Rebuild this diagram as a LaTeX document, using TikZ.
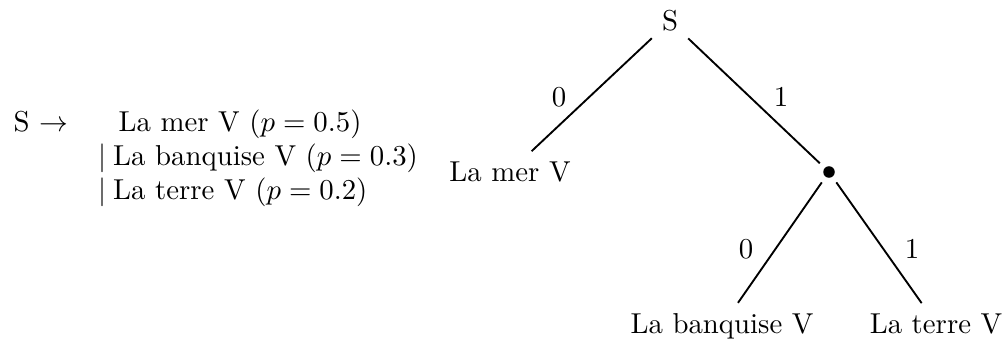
\documentclass[tikz,border=0pt]{standalone}
\begin{document}
\begin{tikzpicture}[x=0.3472pt,y=-0.3472pt,
  txt/.style={inner sep=0pt, anchor=base west},
  tnode/.style={anchor=base},
  lbl/.style={inner sep=0pt},
  branch/.style={line width=0.65pt},
  dotnode/.style={circle, fill=black, inner sep=0pt, minimum size=4pt, outer sep=2.4pt}]
\useasboundingbox (0,0) rectangle (1004,339);
% grammar rule
\node[txt] (lhs) at (13,131) {S $\rightarrow$};
\node[txt] (r1) at (118,131) {La mer V ($p=0.5$)};
\node[txt] (r2) at (98,165) {$\mid$\hspace{2.3pt}La banquise V ($p=0.3$)};
\node[txt] (r3) at (98,199) {$\mid$\hspace{2.3pt}La terre V ($p=0.2$)};
% tree
\node[tnode] (S) at (670,31) {S};
\node[tnode] (mer) at (510,181) {La mer V};
\node[dotnode] (dot) at (829,172) {};
\node[tnode] (banq) at (722,333) {La banquise V};
\node[tnode] (terre) at (936,333) {La terre V};
\draw[branch] (S) -- (mer);
\draw[branch] (S) -- (dot);
\draw[branch] (dot) -- (banq);
\draw[branch] (dot) -- (terre);
\node[lbl] (l0a) at (559,97) {0};
\node[lbl] (l1a) at (781,97) {1};
\node[lbl] (l0b) at (746,249) {0};
\node[lbl] (l1b) at (912,249) {1};
\end{tikzpicture}
\end{document}
